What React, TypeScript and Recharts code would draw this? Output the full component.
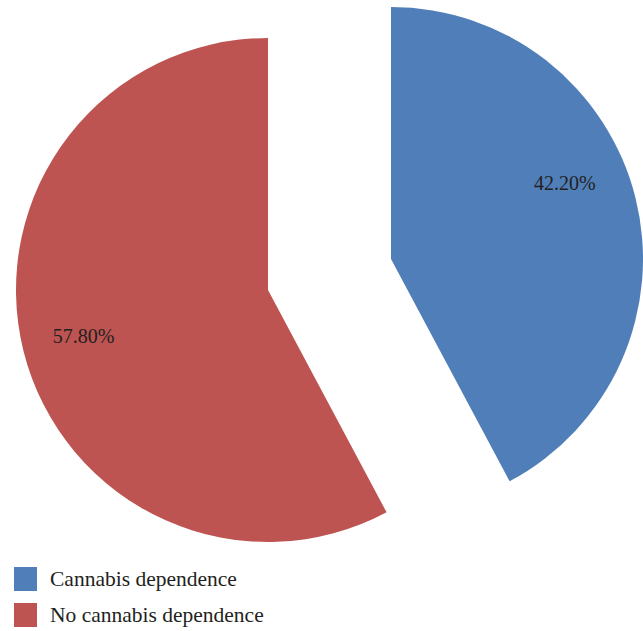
import { Cell, Pie, PieChart } from "recharts";

const categories = ["Cannabis dependence", "No cannabis dependence"];
const shares = [42.2, 57.8];
const colors = ["#4F7EB8", "#BD5452"];

const data = categories.map((name, i) => ({ name, value: shares[i] }));

const W = 643;
const H = 631;
const R = 252;
const FONT = "'Liberation Serif', serif";

// each slice is its own pie, pulled out from the centre like the original
const centers = [
  { cx: 391, cy: 259 },
  { cx: 268, cy: 290 },
];
const labelShift = [9.7, 0]; // degrees, best-fit nudge for the label
const RAD = Math.PI / 180;

function makeLabel(idx: number) {
  return (props: any) => {
    if (props.index !== idx) return null;
    const a = (props.midAngle + labelShift[idx]) * RAD;
    const r = 190;
    const x = props.cx + r * Math.cos(a);
    const y = props.cy - r * Math.sin(a);
    return (
      <text
        x={x}
        y={y}
        textAnchor="middle"
        dominantBaseline="central"
        fill="#231F20"
        fontSize={20}
        fontFamily={FONT}
      >
        {shares[idx].toFixed(2)}%
      </text>
    );
  };
}

function LegendBox() {
  return (
    <div
      style={{
        position: "absolute",
        left: 14,
        top: 561,
        fontFamily: FONT,
        fontSize: 21.5,
        color: "#231F20",
      }}
    >
      {categories.map((c, i) => (
        <div key={c} style={{ display: "flex", alignItems: "center", height: 36 }}>
          <span
            style={{
              width: 23,
              height: 24,
              background: colors[i],
              display: "inline-block",
              marginRight: 13,
            }}
          />
          {c}
        </div>
      ))}
    </div>
  );
}

export default function App() {
  return (
    <div style={{ position: "absolute", left: 0, top: 0, width: W, height: H, background: "#fff" }}>
      <PieChart width={W} height={H} margin={{ top: 0, right: 0, bottom: 0, left: 0 }}>
        {centers.map((c, idx) => (
          <Pie
            key={idx}
            data={data}
            dataKey="value"
            nameKey="name"
            cx={c.cx}
            cy={c.cy}
            outerRadius={R}
            startAngle={90}
            endAngle={-270}
            stroke="none"
            label={makeLabel(idx)}
            labelLine={false}
            isAnimationActive={false}
          >
            {data.map((d, i) => (
              <Cell key={d.name} fill={i === idx ? colors[i] : "transparent"} />
            ))}
          </Pie>
        ))}
      </PieChart>
      <LegendBox />
    </div>
  );
}
